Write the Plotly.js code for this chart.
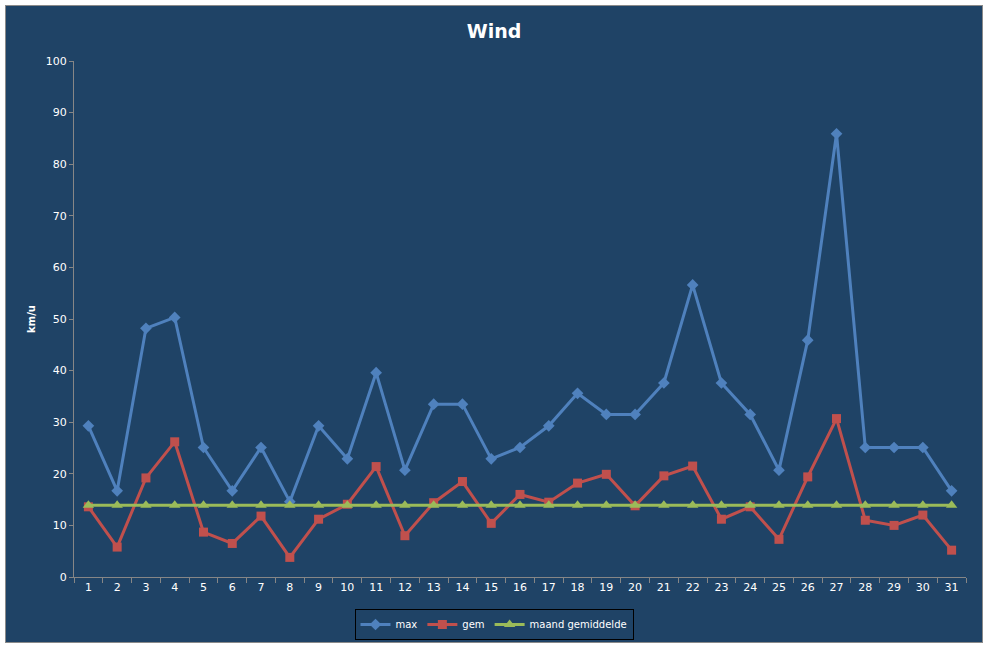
<!DOCTYPE html>
<html>
<head>
<meta charset="utf-8">
<script src="https://cdn.plot.ly/plotly-3.0.1.min.js"></script>
<style>
  body { margin: 0; background: #ffffff; }
  #chart { position: absolute; left: 5px; top: 5px; width: 976px; height: 636px; border: 1px solid #8a8a8a; }
</style>
</head>
<body>
<div id="chart"></div>
<script>
const days = ['1','2','3','4','5','6','7','8','9','10','11','12','13','14','15','16','17','18','19','20','21','22','23','24','25','26','27','28','29','30','31'];
const maxWind = [29.3, 16.7, 48.2, 50.3, 25.1, 16.7, 25.1, 14.6, 29.3, 22.9, 39.6, 20.7, 33.5, 33.5, 22.9,
                 25.1, 29.3, 35.6, 31.5, 31.5, 37.6, 56.6, 37.6, 31.5, 20.7, 45.9, 85.9, 25.1, 25.1, 25.1, 16.7];
const gemWind = [13.6, 5.8, 19.2, 26.2, 8.7, 6.5, 11.8, 3.8, 11.2, 14.1, 21.4, 8.0, 14.4, 18.5, 10.4,
                 16.0, 14.5, 18.2, 19.9, 13.8, 19.6, 21.5, 11.2, 13.6, 7.3, 19.4, 30.7, 11.0, 10.0, 12.0, 5.2];
const maandGem = [13.9, 13.9, 13.9, 13.9, 13.9, 13.9, 13.9, 13.9, 13.9, 13.9, 13.9, 13.9, 13.9, 13.9, 13.9,
                  13.9, 13.9, 13.9, 13.9, 13.9, 13.9, 13.9, 13.9, 13.9, 13.9, 13.9, 13.9, 13.9, 13.9, 13.9, 13.9];

const bg = '#1f4366';
const font = 'DejaVu Sans, Verdana, sans-serif';

const data = [
  {
    x: days, y: maxWind, name: 'max', mode: 'lines+markers',
    line: {color: '#4f81bd', width: 3},
    marker: {symbol: 'diamond', size: 9, color: '#4f81bd'}
  },
  {
    x: days, y: gemWind, name: 'gem', mode: 'lines+markers',
    line: {color: '#c0504d', width: 3},
    marker: {symbol: 'square', size: 9, color: '#c0504d'}
  },
  {
    x: days, y: maandGem, name: 'maand gemiddelde', mode: 'lines+markers',
    line: {color: '#9bbb59', width: 3},
    marker: {symbol: 'triangle-up', size: 10, color: '#9bbb59'}
  }
];

const layout = {
  width: 976, height: 636,
  paper_bgcolor: bg, plot_bgcolor: bg,
  margin: {l: 68, r: 16, t: 55, b: 65, autoexpand: false},
  font: {family: font, color: '#ffffff', size: 11},
  title: {text: '<b>Wind</b>', x: 0.5, xanchor: 'center', y: 1 - 25 / 636, yanchor: 'middle',
          font: {size: 19, color: '#ffffff', family: font}},
  xaxis: {
    type: 'category', tickson: 'boundaries', range: [-0.5, 30.5], automargin: false,
    showline: true, linecolor: '#868686', linewidth: 1,
    ticks: 'outside', ticklen: 5, tickcolor: '#868686',
    showgrid: false, zeroline: false,
    tickfont: {size: 11, color: '#ffffff'}
  },
  yaxis: {
    range: [0, 100], dtick: 10, tick0: 0, automargin: false,
    showline: true, linecolor: '#868686', linewidth: 1,
    ticks: 'outside', ticklen: 4, tickcolor: '#868686',
    showgrid: false, zeroline: false,
    tickfont: {size: 11, color: '#ffffff'},
    title: {text: '<b>km/u</b>', standoff: 8, font: {size: 10, color: '#ffffff'}}
  },
  showlegend: true,
  legend: {
    orientation: 'h', xref: 'container', x: 0.5, xanchor: 'center',
    yref: 'container', y: 1 - 603 / 636, yanchor: 'top',
    bgcolor: bg, bordercolor: '#000000', borderwidth: 1,
    font: {size: 10, color: '#ffffff'}, itemwidth: 30
  }
};

Plotly.newPlot('chart', data, layout, {displayModeBar: false, staticPlot: true});
</script>
</body>
</html>
